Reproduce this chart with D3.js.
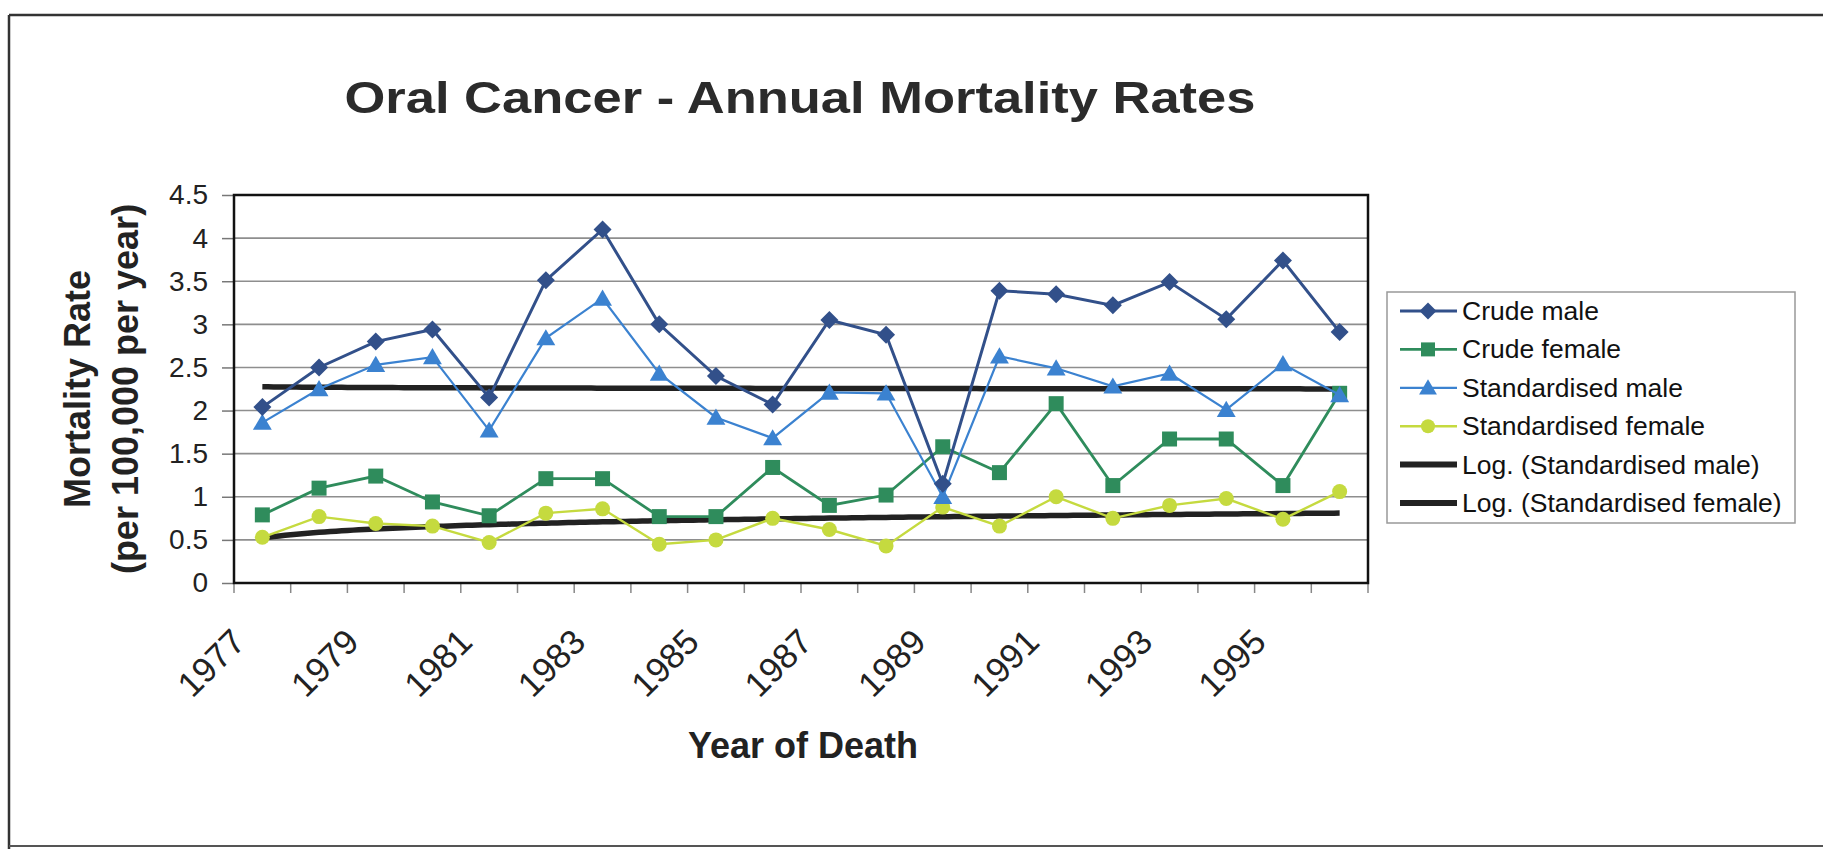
<!DOCTYPE html>
<html>
<head>
<meta charset="utf-8">
<script src="https://cdn.jsdelivr.net/npm/d3@7"></script>
<style>
  html, body { margin: 0; padding: 0; background: #fff; }
  svg { display: block; font-family: "Liberation Sans", Arial, sans-serif; }
</style>
</head>
<body>
<svg id="chart" width="1823" height="849"></svg>
<script>
// ---------------- data ----------------
const years = [1977,1978,1979,1980,1981,1982,1983,1984,1985,1986,1987,1988,1989,1990,1991,1992,1993,1994,1995,1996];
const labelYears = [1977,1979,1981,1983,1985,1987,1989,1991,1993,1995];
const crudeMale    = [2.04,2.50,2.80,2.94,2.15,3.51,4.10,3.00,2.40,2.07,3.05,2.88,1.15,3.39,3.35,3.22,3.49,3.06,3.74,2.91];
const crudeFemale  = [0.79,1.10,1.24,0.94,0.78,1.21,1.21,0.77,0.77,1.34,0.90,1.02,1.58,1.28,2.08,1.13,1.67,1.67,1.13,2.20];
const stdMale      = [1.86,2.25,2.53,2.62,1.77,2.84,3.30,2.43,1.92,1.68,2.21,2.20,1.00,2.63,2.49,2.28,2.43,2.01,2.54,2.18];
const stdFemale    = [0.53,0.77,0.69,0.66,0.47,0.81,0.86,0.45,0.50,0.75,0.62,0.43,0.88,0.66,1.00,0.75,0.90,0.98,0.74,1.06];
const yTicks = [0,0.5,1,1.5,2,2.5,3,3.5,4,4.5];
const seriesNames = ["Crude male","Crude female","Standardised male","Standardised female","Log. (Standardised male)","Log. (Standardised female)"];

// ---------------- layout ----------------
const P = {left: 234, right: 1368, top: 195, bottom: 583};
const svg = d3.select("#chart");

const x = d3.scaleBand().domain(years).range([P.left, P.right]).paddingInner(0).paddingOuter(0);
const cx = d => x(d) + x.bandwidth() / 2;
const y = d3.scaleLinear().domain([0, 4.5]).range([P.bottom, P.top]);

// outer frame
svg.append("line").attr("x1", 9).attr("y1", 15).attr("x2", 1823).attr("y2", 15).attr("stroke", "#333").attr("stroke-width", 2.5);
svg.append("line").attr("x1", 9).attr("y1", 15).attr("x2", 9).attr("y2", 849).attr("stroke", "#333").attr("stroke-width", 2.5);
svg.append("line").attr("x1", 9).attr("y1", 846).attr("x2", 1823).attr("y2", 846).attr("stroke", "#555").attr("stroke-width", 2);

// title
svg.append("text").attr("x", 800).attr("y", 113).attr("text-anchor", "middle")
  .attr("font-size", 45).attr("font-weight", "bold").attr("fill", "#2b2b2b")
  .attr("textLength", 911).attr("lengthAdjust", "spacingAndGlyphs")
  .text("Oral Cancer - Annual Mortality Rates");

// gridlines
svg.append("g").selectAll("line").data(yTicks.filter(d => d > 0 && d < 4.5)).join("line")
  .attr("x1", P.left).attr("x2", P.right).attr("y1", d => y(d)).attr("y2", d => y(d))
  .attr("stroke", "#8e8e8e").attr("stroke-width", 1.6);

// y axis
const yAxis = svg.append("g").attr("transform", `translate(${P.left},0)`)
  .call(d3.axisLeft(y).tickValues(yTicks).tickFormat(d => String(d)).tickSize(12).tickPadding(14));
yAxis.select(".domain").remove();
yAxis.selectAll(".tick line").attr("stroke", "#777").attr("stroke-width", 1.5);
yAxis.selectAll(".tick text").attr("font-size", 28).attr("fill", "#222")
  .attr("font-family", "'Liberation Sans', Arial, sans-serif");

// x axis ticks at category boundaries
const bounds = years.map(d => x(d)).concat([P.right]);
svg.append("g").selectAll("line").data(bounds).join("line")
  .attr("x1", d => d).attr("x2", d => d).attr("y1", P.bottom).attr("y2", P.bottom + 10)
  .attr("stroke", "#888").attr("stroke-width", 1.5);

// x axis labels
const xAxis = svg.append("g").attr("transform", `translate(0,${P.bottom})`)
  .call(d3.axisBottom(x).tickValues(labelYears).tickSize(0));
xAxis.select(".domain").remove();
xAxis.selectAll(".tick text")
  .attr("y", 0).attr("dy", 0).attr("x", 0)
  .attr("text-anchor", "end")
  .attr("transform", "translate(-15,61) rotate(-45)")
  .attr("font-size", 35).attr("fill", "#222")
  .attr("font-family", "'Liberation Sans', Arial, sans-serif");

// axis titles
svg.append("text").attr("x", 803).attr("y", 758).attr("text-anchor", "middle")
  .attr("font-size", 36).attr("font-weight", "bold").attr("fill", "#222").text("Year of Death");
svg.append("text").attr("transform", `translate(90,389) rotate(-90)`).attr("text-anchor", "middle")
  .attr("font-size", 36).attr("font-weight", "bold").attr("fill", "#222").text("Mortality Rate");
svg.append("text").attr("transform", `translate(138,389) rotate(-90)`).attr("text-anchor", "middle")
  .attr("font-size", 36).attr("font-weight", "bold").attr("fill", "#222").text("(per 100,000 per year)");

// ---------------- trendlines (least-squares log fit, as in the spreadsheet) ----------------
function logFit(vals) {
  const xs = vals.map((v, i) => Math.log(i + 1));
  const mx = d3.mean(xs), my = d3.mean(vals);
  const b = d3.sum(xs.map((xv, i) => (xv - mx) * (vals[i] - my))) / d3.sum(xs.map(xv => (xv - mx) ** 2));
  const a = my - b * mx;
  return t => a + b * Math.log(t);
}
const xi = d3.scaleLinear().domain([1, years.length]).range([cx(years[0]), cx(years[years.length - 1])]);
const samples = d3.range(1, years.length + 0.001, 0.1);
const trendLine = f => d3.line().x(t => xi(t)).y(t => y(f(t)))(samples);

// ---------------- series ----------------
const colors = {cm: "#32508a", cf: "#2f8c5c", sm: "#3b82d0", sf: "#c5da3f", tr: "#222"};
const symbols = {
  diamond: r => `M0,${-r}L${r},0L0,${r}L${-r},0Z`,
  square:  r => `M${-r},${-r}H${r}V${r}H${-r}Z`,
  triangle:r => `M0,${-r}L${r*1.05},${r*0.8}L${-r*1.05},${r*0.8}Z`,
  circle:  r => `M${r},0A${r},${r},0,1,1,${-r},0A${r},${r},0,1,1,${r},0Z`
};
const series = [
  {vals: crudeFemale, color: colors.cf, sym: "square", r: 7.5, w: 2.8},
  {vals: stdFemale, color: colors.sf, sym: "circle", r: 7.5, w: 2.4},
  {vals: stdMale, color: colors.sm, sym: "triangle", r: 9, w: 2.2},
  {vals: crudeMale, color: colors.cm, sym: "diamond", r: 9, w: 3}
];
const lineGen = d3.line().x((d, i) => cx(years[i])).y(d => y(d));

// trends drawn beneath data lines
svg.append("path").attr("d", trendLine(logFit(stdMale))).attr("fill", "none").attr("stroke", colors.tr).attr("stroke-width", 5.5);
svg.append("path").attr("d", trendLine(logFit(stdFemale))).attr("fill", "none").attr("stroke", colors.tr).attr("stroke-width", 5.5);

series.forEach(s => {
  svg.append("path").attr("d", lineGen(s.vals)).attr("fill", "none").attr("stroke", s.color).attr("stroke-width", s.w);
  svg.append("g").selectAll("path").data(s.vals).join("path")
    .attr("d", symbols[s.sym](s.r))
    .attr("transform", (d, i) => `translate(${cx(years[i])},${y(d)})`)
    .attr("fill", s.color);
});

// plot border
svg.append("rect").attr("x", P.left).attr("y", P.top).attr("width", P.right - P.left).attr("height", P.bottom - P.top)
  .attr("fill", "none").attr("stroke", "#111").attr("stroke-width", 2.5);

// ---------------- legend ----------------
const L = {x: 1387, y: 292, w: 408, h: 231};
svg.append("rect").attr("x", L.x).attr("y", L.y).attr("width", L.w).attr("height", L.h)
  .attr("fill", "#fff").attr("stroke", "#999").attr("stroke-width", 1.5);
const legendItems = [
  {name: seriesNames[0], color: colors.cm, sym: "diamond", r: 8.5, w: 2.8},
  {name: seriesNames[1], color: colors.cf, sym: "square", r: 7, w: 2.6},
  {name: seriesNames[2], color: colors.sm, sym: "triangle", r: 8.5, w: 2.2},
  {name: seriesNames[3], color: colors.sf, sym: "circle", r: 7, w: 2.4},
  {name: seriesNames[4], color: colors.tr, sym: null, w: 6},
  {name: seriesNames[5], color: colors.tr, sym: null, w: 6}
];
const lg = svg.append("g").selectAll("g").data(legendItems).join("g")
  .attr("transform", (d, i) => `translate(0,${311 + i * 38.4})`);
lg.append("line").attr("x1", 1400).attr("x2", 1457).attr("y1", 0).attr("y2", 0)
  .attr("stroke", d => d.color).attr("stroke-width", d => d.w);
lg.filter(d => d.sym).append("path").attr("d", d => symbols[d.sym](d.r))
  .attr("transform", "translate(1428,0)").attr("fill", d => d.color);
lg.append("text").attr("x", 1462).attr("y", 9).attr("font-size", 26.5).attr("fill", "#111").text(d => d.name);
</script>
</body>
</html>
